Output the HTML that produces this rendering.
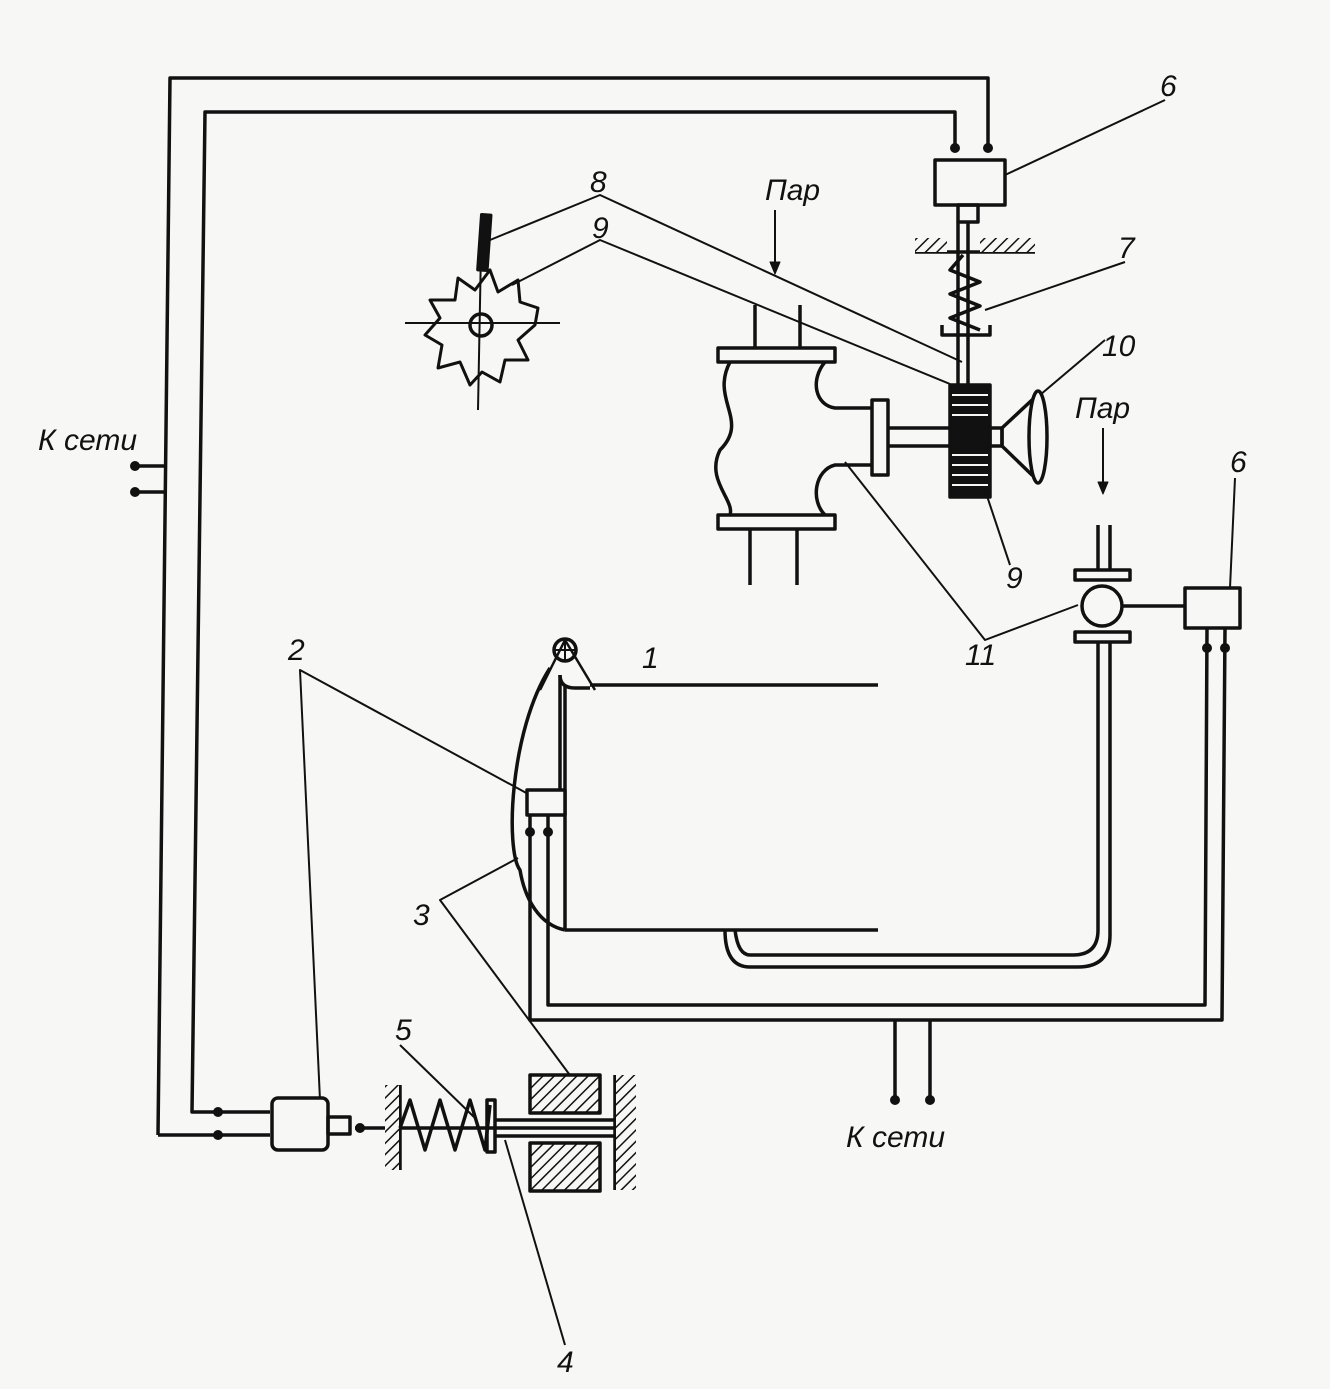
<!DOCTYPE html>
<html><head><meta charset="utf-8"><style>
html,body{margin:0;padding:0;background:#f7f7f5;}
svg{display:block}
text{font-family:"Liberation Sans",sans-serif;font-style:italic;font-size:30px;fill:#111}
</style></head><body>
<svg width="1330" height="1389" viewBox="0 0 1330 1389" xmlns="http://www.w3.org/2000/svg">
<defs>
<pattern id="h" width="8" height="8" patternUnits="userSpaceOnUse" patternTransform="rotate(45)">
<rect width="8" height="8" fill="#f7f7f5"/><line x1="0" y1="0" x2="0" y2="8" stroke="#111" stroke-width="3"/>
</pattern>
</defs>
<g stroke="#111" stroke-width="3.5" fill="none" stroke-linejoin="round">
<polyline points="158,1135 170,78 988,78 988,148"/>
<polyline points="218,1112 192,1112 205,112 955,112 955,148"/>
<line x1="158" y1="1135" x2="270" y2="1135"/>
<line x1="218" y1="1112" x2="270" y2="1112"/>
<line x1="135" y1="466" x2="166" y2="466"/>
<line x1="135" y1="492" x2="166" y2="492"/>
<rect x="935" y="160" width="70" height="45" fill="#f7f7f5"/>
<rect x="958" y="205" width="20" height="17"/>
<line x1="958" y1="222" x2="958" y2="385"/>
<line x1="968" y1="222" x2="968" y2="385"/>
<line x1="915" y1="252" x2="1035" y2="252"/>
<rect x="915" y="238" width="32" height="14" fill="url(#h)" stroke="none"/>
<rect x="980" y="238" width="55" height="14" fill="url(#h)" stroke="none"/>
<polyline points="963,255 950,270 980,282 950,294 980,306 950,318 980,330"/>
<polyline points="942,325 942,335 990,335 990,325"/>
<rect x="950" y="385" width="40" height="112" fill="#111"/>
<g stroke="#f7f7f5" stroke-width="2">
<line x1="952" y1="395" x2="988" y2="395"/><line x1="952" y1="405" x2="988" y2="405"/><line x1="952" y1="415" x2="988" y2="415"/><line x1="952" y1="455" x2="988" y2="455"/><line x1="952" y1="465" x2="988" y2="465"/><line x1="952" y1="475" x2="988" y2="475"/><line x1="952" y1="485" x2="988" y2="485"/>
</g>
<rect x="880" y="428" width="70" height="18" fill="#f7f7f5"/>
<rect x="990" y="428" width="12" height="18"/>
<rect x="872" y="400" width="16" height="75" fill="#f7f7f5"/>
<polygon points="1002,428 1032,400 1032,475 1002,446"/>
<ellipse cx="1038" cy="437" rx="9" ry="46" fill="#f7f7f5"/>
<rect x="718" y="348" width="117" height="14"/>
<rect x="718" y="515" width="117" height="14"/>
<path d="M730,362 C710,400 750,420 720,450 C705,480 735,500 730,515"/>
<path d="M825,362 C810,380 815,405 835,408 L872,408"/>
<path d="M825,515 C810,500 815,470 835,465 L872,465"/>
<line x1="755" y1="305" x2="755" y2="348"/><line x1="800" y1="305" x2="800" y2="348"/>
<line x1="750" y1="529" x2="750" y2="585"/><line x1="797" y1="529" x2="797" y2="585"/>
<polygon points="535,325 518,340 528,360 505,360 500,382 482,372 470,385 460,362 438,368 442,345 425,335 440,318 430,300 455,300 458,278 475,290 490,270 498,292 518,280 520,302 538,308" stroke-width="3"/>
<circle cx="481" cy="325" r="11"/>
<line x1="405" y1="323" x2="560" y2="323" stroke-width="2"/>
<line x1="481" y1="250" x2="478" y2="410" stroke-width="2"/>
<rect x="480" y="215" width="9" height="55" fill="#111" transform="rotate(4 484 240)"/>
<g stroke-width="2">
<polyline points="490,240 600,195 962,362"/>
<polyline points="512,285 600,240 950,384"/>
<line x1="775" y1="210" x2="775" y2="270"/>
<line x1="1103" y1="428" x2="1103" y2="490"/>
<polyline points="845,462 985,640 1078,605"/>
<line x1="1010" y1="565" x2="985" y2="490"/>
<polyline points="530,795 300,670 320,1100"/>
<polyline points="518,858 440,900 575,1082"/>
<line x1="400" y1="1045" x2="475" y2="1118"/>
<line x1="565" y1="1345" x2="505" y2="1140"/>
<line x1="1105" y1="340" x2="1040" y2="395"/>
<line x1="1165" y1="100" x2="1005" y2="175"/>
<line x1="1125" y1="262" x2="985" y2="310"/>
<line x1="1235" y1="478" x2="1230" y2="588"/>
</g>
<polygon points="770,262 780,262 775,274" fill="#111" stroke-width="1"/>
<polygon points="1098,482 1108,482 1103,494" fill="#111" stroke-width="1"/>
<line x1="1098" y1="525" x2="1098" y2="570"/><line x1="1110" y1="525" x2="1110" y2="570"/>
<rect x="1075" y="570" width="55" height="10"/>
<rect x="1075" y="632" width="55" height="10"/>
<circle cx="1102" cy="606" r="20" fill="#f7f7f5"/>
<line x1="1122" y1="606" x2="1185" y2="606"/>
<rect x="1185" y="588" width="55" height="40"/>
<path d="M1098,642 L1098,930 Q1098,955 1073,955 L750,955 Q738,955 735,930"/>
<path d="M1110,642 L1110,935 Q1110,967 1078,967 L750,967 Q725,967 725,930"/>
<polyline points="1207,628 1205,1005 548,1005 548,815"/>
<polyline points="1225,628 1222,1020 530,1020 530,815"/>
<line x1="895" y1="1020" x2="895" y2="1100"/>
<line x1="930" y1="1020" x2="930" y2="1100"/>
<line x1="590" y1="685" x2="878" y2="685"/>
<line x1="565" y1="930" x2="878" y2="930"/>
<line x1="565" y1="685" x2="565" y2="930"/>
<path d="M550,668 C510,730 505,850 520,870 C525,900 540,925 565,930"/>
<line x1="560" y1="675" x2="560" y2="790"/>
<path d="M560,675 Q560,688 575,688 L590,688"/>
<circle cx="565" cy="650" r="11"/>
<line x1="554" y1="650" x2="576" y2="650" stroke-width="2"/><line x1="565" y1="639" x2="565" y2="661" stroke-width="2"/>
<polyline points="540,690 565,640 595,690" stroke-width="2.5"/>
<rect x="527" y="790" width="38" height="25" fill="#f7f7f5"/>
<rect x="272" y="1098" width="56" height="52" rx="6" fill="#f7f7f5"/>
<rect x="328" y="1117" width="22" height="17"/>
<line x1="355" y1="1128" x2="630" y2="1128"/>
<line x1="495" y1="1120" x2="630" y2="1120"/>
<line x1="495" y1="1136" x2="630" y2="1136"/>
<line x1="400" y1="1085" x2="400" y2="1170"/>
<rect x="385" y="1085" width="14" height="85" fill="url(#h)" stroke="none"/>
<polyline points="400,1128 410,1100 425,1150 440,1100 455,1150 470,1100 485,1150 490,1105"/>
<rect x="487" y="1100" width="8" height="52"/>
<rect x="530" y="1075" width="70" height="38" fill="url(#h)"/>
<rect x="530" y="1143" width="70" height="48" fill="url(#h)"/>
<line x1="615" y1="1075" x2="615" y2="1190"/>
<rect x="616" y="1075" width="20" height="115" fill="url(#h)" stroke="none"/>
</g>
<g fill="#111">
<circle cx="135" cy="466" r="5"/><circle cx="135" cy="492" r="5"/>
<circle cx="955" cy="148" r="5"/><circle cx="988" cy="148" r="5"/>
<circle cx="218" cy="1112" r="5"/><circle cx="218" cy="1135" r="5"/>
<circle cx="1207" cy="648" r="5"/><circle cx="1225" cy="648" r="5"/>
<circle cx="530" cy="832" r="5"/><circle cx="548" cy="832" r="5"/>
<circle cx="895" cy="1100" r="5"/><circle cx="930" cy="1100" r="5"/>
<circle cx="360" cy="1128" r="5"/>
</g>
<text x="38" y="450">К сети</text>
<text x="846" y="1147">К сети</text>
<text x="1160" y="96">6</text>
<text x="590" y="192">8</text>
<text x="592" y="238">9</text>
<text x="765" y="200">Пар</text>
<text x="1118" y="258">7</text>
<text x="1102" y="356">10</text>
<text x="1075" y="418">Пар</text>
<text x="1230" y="472">6</text>
<text x="1006" y="588">9</text>
<text x="965" y="665">11</text>
<text x="642" y="668">1</text>
<text x="288" y="660">2</text>
<text x="413" y="925">3</text>
<text x="395" y="1040">5</text>
<text x="557" y="1372">4</text>
</svg>
</body></html>
